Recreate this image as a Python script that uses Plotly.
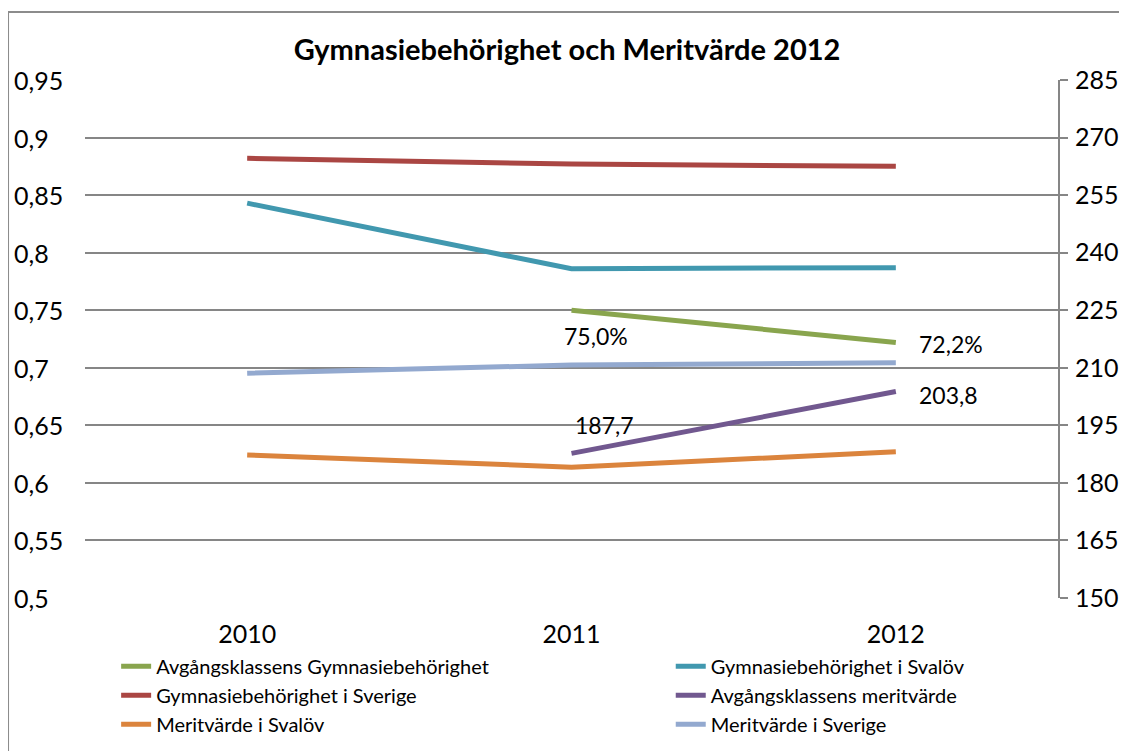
import plotly.graph_objects as go

# kategorier (år)
years = ["2010", "2011", "2012"]

# vänster axel – andel behöriga
avg_gymn = [None, 0.750, 0.722]
gymn_svalov = [0.843, 0.786, 0.787]
gymn_sverige = [0.882, 0.877, 0.875]

# höger axel – meritvärde
avg_merit = [None, 187.7, 203.8]
merit_svalov = [187.3, 184.1, 188.1]
merit_sverige = [208.6, 210.7, 211.3]

left_ticks = [0.5, 0.55, 0.6, 0.65, 0.7, 0.75, 0.8, 0.85, 0.9, 0.95]
left_ticktext = ["0,5", "0,55", "0,6", "0,65", "0,7", "0,75", "0,8", "0,85", "0,9", "0,95"]
right_ticks = [150, 165, 180, 195, 210, 225, 240, 255, 270, 285]

FONT = "Lato"
GRID = "#868686"

fig = go.Figure()

# (namn, värden, axel, färg, legend-kolumn)
series = [
    ("Avgångsklassens Gymnasiebehörighet", avg_gymn, "y", "#89A54E", "legend"),
    ("Gymnasiebehörighet i Svalöv", gymn_svalov, "y", "#4198AF", "legend2"),
    ("Gymnasiebehörighet i Sverige", gymn_sverige, "y", "#AA4643", "legend"),
    ("Avgångsklassens meritvärde", avg_merit, "y2", "#71588F", "legend2"),
    ("Meritvärde i Svalöv", merit_svalov, "y2", "#DB843D", "legend"),
    ("Meritvärde i Sverige", merit_sverige, "y2", "#93A9CF", "legend2"),
]
for i, (name, vals, ax, col, leg) in enumerate(series):
    fig.add_trace(go.Scatter(
        x=years, y=vals, name=name, mode="lines", yaxis=ax,
        line=dict(color=col, width=5),
        legend=leg, legendgroup=f"g{i}",
    ))

# dataetiketter
def pct(v):
    return f"{v * 100:.1f}%".replace(".", ",")

def num(v):
    return f"{v:.1f}".replace(".", ",")

labels = [
    (1, avg_gymn[1], "y", pct(avg_gymn[1]), 24, -26),
    (2, avg_gymn[2], "y", pct(avg_gymn[2]), 55, -2),
    (1, avg_merit[1], "y2", num(avg_merit[1]), 33, 28),
    (2, avg_merit[2], "y2", num(avg_merit[2]), 53, -3),
]
for xi, y, yref, txt, dx, dy in labels:
    fig.add_annotation(
        x=xi, y=y, xref="x", yref=yref, text=txt, showarrow=False,
        xshift=dx, yshift=dy, font=dict(family=FONT, size=23, color="black"),
    )

# vänsterjusterade etiketter för vänster axel (som i Excel)
for t, txt in zip(left_ticks, left_ticktext):
    fig.add_annotation(
        x=-0.075, y=t, xref="paper", yref="y", text=txt, showarrow=False,
        xanchor="left", yanchor="middle",
        font=dict(family=FONT, size=25, color="black"),
    )

# ram runt diagrammet
fig.add_shape(
    type="rect", xref="paper", yref="paper",
    x0=-0.0791, x1=1.0699, y0=-0.4, y1=1.1313,
    line=dict(color="#8C8C8C", width=2), layer="below",
)

legend_style = dict(
    orientation="v", xanchor="left", yanchor="top", y=-0.094,
    font=dict(family=FONT, size=20, color="black"),
    bgcolor="rgba(0,0,0,0)", tracegroupgap=0,
)

# sidan har 8 px marginal i webbläsaren, därför 1119x743
fig.update_layout(
    width=1119,
    height=743,
    margin=dict(l=77, r=69, t=72, b=153, autoexpand=False),
    paper_bgcolor="white",
    plot_bgcolor="white",
    font=dict(family=FONT, size=25, color="black"),
    title=dict(
        text="<b>Gymnasiebehörighet och Meritvärde 2012</b>",
        x=0.4996, xanchor="center", y=0.9435, yanchor="middle",
        font=dict(family=FONT, size=29, color="black"),
    ),
    xaxis=dict(
        type="category", range=[-0.5, 2.5], showgrid=False, showline=False,
        ticks="", ticklabelstandoff=19, zeroline=False,
    ),
    yaxis=dict(
        range=[0.5, 0.95], tickvals=left_ticks, showticklabels=False,
        showgrid=True, gridcolor=GRID, gridwidth=2,
        showline=False, ticks="", zeroline=False,
    ),
    yaxis2=dict(
        range=[150, 285], tickvals=right_ticks, overlaying="y", side="right",
        showgrid=False, showline=True, linecolor=GRID, linewidth=2,
        ticks="outside", ticklen=8, tickcolor=GRID, tickwidth=2,
        zeroline=False, ticklabelstandoff=2,
    ),
    showlegend=True,
    legend=dict(legend_style, x=0.032),
    legend2=dict(legend_style, x=0.602),
)

fig.write_html("out.html")
